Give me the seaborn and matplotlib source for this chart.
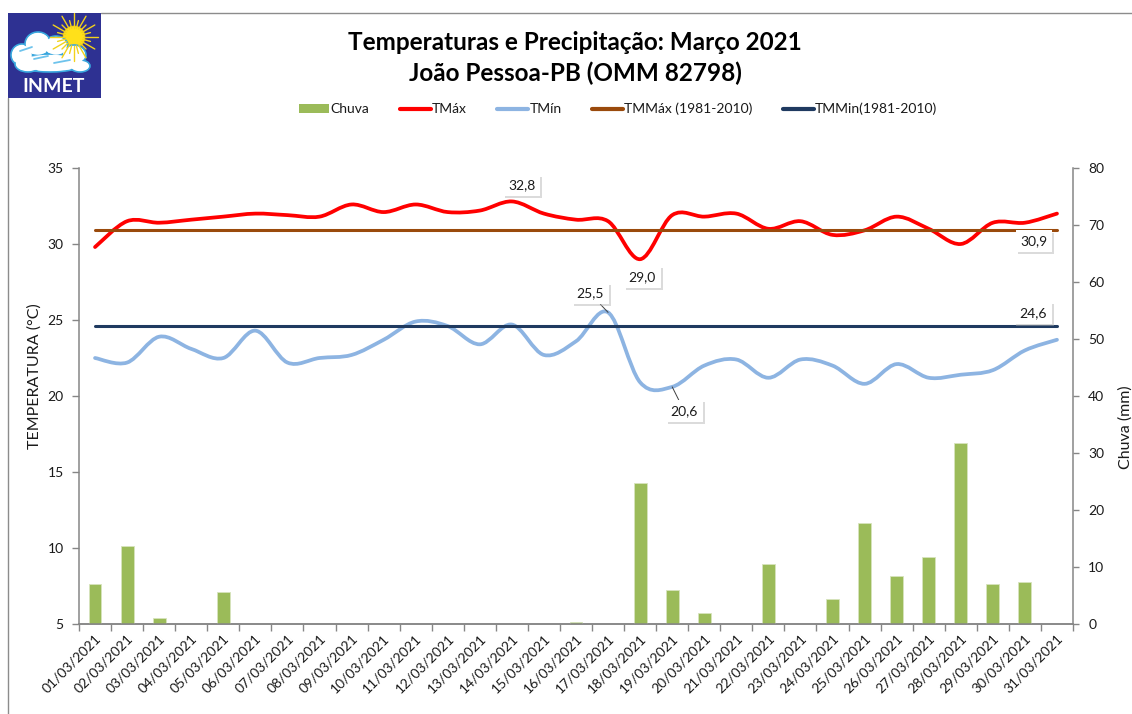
import numpy as np
import pandas as pd
import matplotlib
matplotlib.use("Agg")
import matplotlib.pyplot as plt
import seaborn as sns
from matplotlib.path import Path
from matplotlib.patches import PathPatch, Rectangle, Ellipse, Circle, Patch
from matplotlib.lines import Line2D
import matplotlib.patheffects as pe
import matplotlib.transforms as mtransforms

# ---------------- data ----------------
dias = ["01/03/2021", "02/03/2021", "03/03/2021", "04/03/2021", "05/03/2021",
        "06/03/2021", "07/03/2021", "08/03/2021", "09/03/2021", "10/03/2021",
        "11/03/2021", "12/03/2021", "13/03/2021", "14/03/2021", "15/03/2021",
        "16/03/2021", "17/03/2021", "18/03/2021", "19/03/2021", "20/03/2021",
        "21/03/2021", "22/03/2021", "23/03/2021", "24/03/2021", "25/03/2021",
        "26/03/2021", "27/03/2021", "28/03/2021", "29/03/2021", "30/03/2021",
        "31/03/2021"]
chuva = [7.0, 13.6, 1.0, 0.0, 5.6, 0.0, 0.0, 0.0, 0.0, 0.0,
         0.0, 0.0, 0.0, 0.0, 0.0, 0.4, 0.0, 24.7, 6.0, 2.0,
         0.0, 10.5, 0.0, 4.4, 17.8, 8.5, 11.7, 31.7, 7.0, 7.4, 0.0]
tmax = [29.8, 31.5, 31.4, 31.6, 31.8, 32.0, 31.9, 31.8, 32.6, 32.1,
        32.6, 32.1, 32.2, 32.8, 32.0, 31.6, 31.5, 29.0, 31.9, 31.8,
        32.0, 31.0, 31.5, 30.6, 30.9, 31.8, 31.0, 30.0, 31.4, 31.4, 32.0]
tmin = [22.5, 22.2, 23.9, 23.1, 22.5, 24.3, 22.2, 22.5, 22.7, 23.7,
        24.9, 24.6, 23.4, 24.7, 22.7, 23.6, 25.5, 20.9, 20.6, 22.0,
        22.4, 21.2, 22.4, 22.0, 20.8, 22.1, 21.2, 21.4, 21.7, 23.0, 23.7]
tmm_max = [30.9] * len(dias)
tmm_min = [24.6] * len(dias)

temp_ticks = [5, 10, 15, 20, 25, 30, 35]
chuva_ticks = [0, 10, 20, 30, 40, 50, 60, 70, 80]

C_BAR = "#9BBB59"
C_TMAX = "#FF0000"
C_TMIN = "#8DB4E2"
C_TMMAX = "#9A4A0C"
C_TMMIN = "#1F3A60"
GRAY = "#868686"
TXT = "#1a1a1a"

sns.set_style("white")
plt.rcParams["font.family"] = ["Lato", "DejaVu Sans"]

W, H = 1132, 714
fig = plt.figure(figsize=(W / 100, H / 100), dpi=100)
fig.patch.set_facecolor("white")

ax = fig.add_axes([79 / W, 1 - 624 / H, (1073 - 79) / W, (624 - 168) / H])
ax2 = ax.twinx()

df = pd.DataFrame({"dia": dias, "chuva": chuva})
sns.barplot(data=df, x="dia", y="chuva", ax=ax2, color=C_BAR, saturation=1,
            width=0.4, edgecolor="#D7E4BD", linewidth=0.6)

x = np.arange(len(dias))


def smooth_path(xs, ys):
    n = len(xs)
    verts = [(xs[0], ys[0])]
    codes = [Path.MOVETO]
    for i in range(n - 1):
        i0, i3 = max(i - 1, 0), min(i + 2, n - 1)
        p0 = np.array([xs[i0], ys[i0]], float)
        p1 = np.array([xs[i], ys[i]], float)
        p2 = np.array([xs[i + 1], ys[i + 1]], float)
        p3 = np.array([xs[i3], ys[i3]], float)
        c1 = p1 + (p2 - p0) / 6.0
        c2 = p2 - (p3 - p1) / 6.0
        verts += [tuple(c1), tuple(c2), tuple(p2)]
        codes += [Path.CURVE4] * 3
    return Path(verts, codes)


ax.add_patch(PathPatch(smooth_path(x, tmax), fill=False, edgecolor=C_TMAX,
                       lw=2.7, capstyle="round", joinstyle="round", zorder=3))
ax.add_patch(PathPatch(smooth_path(x, tmin), fill=False, edgecolor=C_TMIN,
                       lw=2.7, capstyle="round", joinstyle="round", zorder=3))
sns.lineplot(x=x, y=tmm_max, ax=ax, color=C_TMMAX, lw=2.2, zorder=4)
sns.lineplot(x=x, y=tmm_min, ax=ax, color=C_TMMIN, lw=2.2, zorder=4)

ax.set_xlim(-0.5, len(dias) - 0.5)
ax.set_ylim(5, 35)
ax2.set_ylim(0, 80)
ax.set_yticks(temp_ticks)
ax.set_yticklabels([str(v) for v in temp_ticks])
ax2.set_yticks(chuva_ticks)
ax2.set_yticklabels([str(v) for v in chuva_ticks])

ax.set_xticks(x)
ax.set_xticklabels(dias)
ax.set_xticks(np.arange(len(dias) + 1) - 0.5, minor=True)
ax.tick_params(axis="x", which="major", length=0, pad=9, labelsize=10,
               labelcolor=TXT)
ax.tick_params(axis="x", which="minor", length=5, width=1, color=GRAY,
               direction="out", bottom=True)
offset = mtransforms.ScaledTranslation(4 / 100, 0, fig.dpi_scale_trans)
for lab in ax.get_xticklabels():
    lab.set_rotation(45)
    lab.set_ha("right")
    lab.set_va("center")
    lab.set_rotation_mode("anchor")
    lab.set_transform(lab.get_transform() + offset)

ax.tick_params(axis="y", which="major", length=5, width=1, color=GRAY,
               direction="out", left=True, pad=6, labelsize=10, labelcolor=TXT)
ax2.tick_params(axis="y", which="major", length=4, width=1, color=GRAY,
                direction="out", right=True, pad=7, labelsize=10, labelcolor=TXT)
ax.set_xlabel("")
ax2.set_xlabel("")
ax.set_ylabel("")
ax2.set_ylabel("")

for a in (ax, ax2):
    a.spines["top"].set_visible(False)
    for s in ("left", "right", "bottom"):
        a.spines[s].set_color(GRAY)
        a.spines[s].set_linewidth(1.1)
ax.spines["right"].set_visible(False)
ax2.spines["left"].set_visible(False)
ax.grid(False)
ax2.grid(False)

# ---------------- annotations ----------------
def label(axis, text, xy, off, leader=False):
    kw = dict(xy=xy, xytext=off, textcoords="offset pixels", ha="center",
              va="center", fontsize=10, color=TXT, zorder=10,
              bbox=dict(boxstyle="square,pad=0.35", fc="white", ec="none"))
    if leader:
        kw["arrowprops"] = dict(arrowstyle="-", color="#404040", lw=0.7,
                                shrinkA=0, shrinkB=0)
    an = axis.annotate(text, **kw)
    an.get_bbox_patch().set_path_effects(
        [pe.SimplePatchShadow(offset=(1.5, -1.5), shadow_rgbFace="#b0b0b0", alpha=0.45),
         pe.Normal()])
    return an


label(ax, "32,8", (13, tmax[13]), (10, 16))
label(ax, "29,0", (17, tmax[17]), (2, -18))
label(ax, "30,9", (30, tmm_max[30]), (-23, -11))
label(ax, "25,5", (16, tmin[16]), (-18, 19), leader=True)
label(ax, "24,6", (30, tmm_min[30]), (-24, 13))
label(ax, "20,6", (18, tmin[18]), (12, -24), leader=True)

# ---------------- titles / labels ----------------
fig.text(575 / W, 1 - 42 / H, "Temperaturas e Precipitação: Março 2021",
         ha="center", va="center", fontsize=17.5, fontweight="bold", color="black")
fig.text(575 / W, 1 - 73 / H, "João Pessoa-PB (OMM 82798)",
         ha="center", va="center", fontsize=17.5, fontweight="bold", color="black")
fig.text(35 / W, 1 - 376 / H, "TEMPERATURA (°C)", rotation=90, ha="center",
         va="center", fontsize=11.5, color=TXT)
fig.text(1126 / W, 1 - 427 / H, "Chuva (mm)", rotation=90, ha="center",
         va="center", fontsize=11.5, color=TXT)

handles = [Patch(facecolor=C_BAR, edgecolor="none"),
           Line2D([], [], color=C_TMAX, lw=3),
           Line2D([], [], color=C_TMIN, lw=3),
           Line2D([], [], color=C_TMMAX, lw=3),
           Line2D([], [], color=C_TMMIN, lw=3)]
labels = ["Chuva", "TMáx", "TMín", "TMMáx (1981-2010)", "TMMin(1981-2010)"]
fig.legend(handles, labels, loc="center", bbox_to_anchor=(618 / W, 1 - 109 / H),
           ncol=5, frameon=False, fontsize=10, handlelength=2.2,
           handleheight=0.6, handletextpad=0.1, columnspacing=2.2,
           labelcolor=TXT)

# ---------------- chart border ----------------
fig.add_artist(Line2D([101 / W, 1], [1 - 13 / H, 1 - 13 / H], color="#8c8c8c",
                      lw=1.0, transform=fig.transFigure))
fig.add_artist(Line2D([8 / W, 8 / W], [1 - 98 / H, 0], color="#8c8c8c",
                      lw=1.0, transform=fig.transFigure))

# ---------------- logo ----------------
lg = fig.add_axes([8 / W, 1 - 98 / H, 93 / W, 85 / H])
lg.set_xlim(0, 93)
lg.set_ylim(85, 0)
lg.set_axis_off()
lg.add_patch(Rectangle((0, 0), 93, 85, fc="#2E3192", ec="none"))
sx, sy = 66, 24
for k, ang in enumerate(np.linspace(0, 2 * np.pi, 24, endpoint=False)):
    r2 = 24 if k % 2 == 0 else 17
    lg.plot([sx + 9 * np.cos(ang), sx + r2 * np.cos(ang)],
            [sy + 9 * np.sin(ang), sy + r2 * np.sin(ang)],
            color="#F2D21B", lw=1.0, solid_capstyle="round")
lg.add_patch(Circle((sx, sy), 11, fc="#FFE01A", ec="#F7C600", lw=0.5))
blobs = [(14, 42, 22, 22), (30, 31, 26, 24), (48, 33, 24, 20),
         (66, 42, 24, 20), (42, 50, 68, 18), (20, 51, 26, 16), (72, 53, 20, 12)]
for (cx, cy, w, h) in blobs:
    lg.add_patch(Ellipse((cx, cy), w, h, fc="white", ec="#39A7DE", lw=1.2))
for (cx, cy, w, h) in blobs:
    lg.add_patch(Ellipse((cx, cy), w - 2.5, h - 2.5, fc="white", ec="none"))
lg.plot([12, 24], [38, 34], color="#6EC3EC", lw=1.3)
lg.plot([26, 40], [46, 43], color="#6EC3EC", lw=1.3)
lg.plot([46, 62], [50, 47], color="#6EC3EC", lw=1.3)
lg.text(46, 74, "INMET", ha="center", va="center", fontsize=14,
        fontweight="bold", color="white")

fig.savefig("out.png", dpi=100, facecolor="white")
